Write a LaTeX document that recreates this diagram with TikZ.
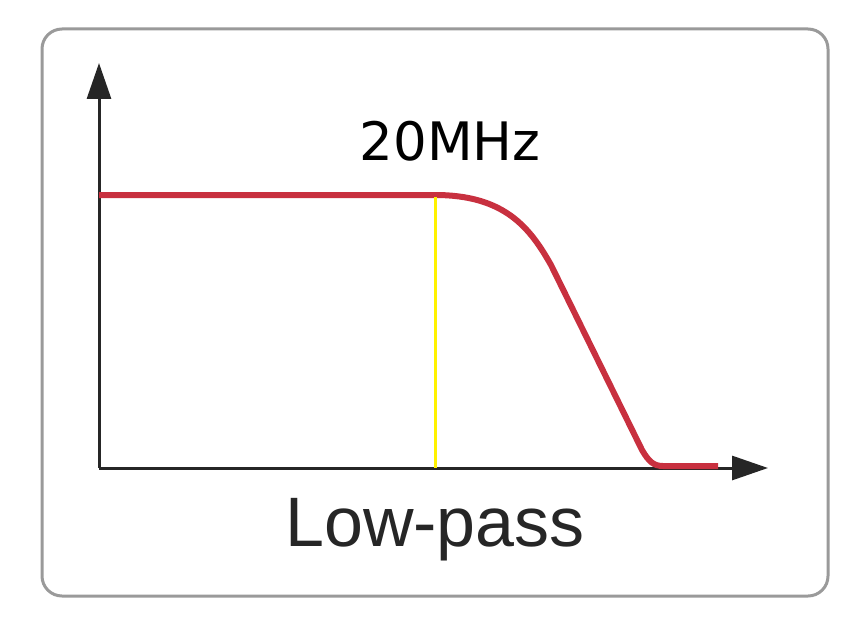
\documentclass[tikz,border=0pt]{standalone}
\usepackage{fontspec}
\setmainfont{Liberation Sans}
\newfontfamily\handfont{DejaVu Sans}
\usetikzlibrary{arrows.meta}
\definecolor{curvered}{HTML}{C8303F}
\definecolor{framegray}{HTML}{9A9A9A}
\tikzset{
  frame/.style={draw=framegray,line width=3pt,rounded corners=20pt},
  axis/.style={draw=black!85,line width=3pt,-{Triangle[length=36pt,width=24pt]}},
  response/.style={draw=curvered,line width=6pt,line join=round},
  marker/.style={draw=yellow,line width=3pt},
}
\begin{document}
\begin{tikzpicture}[x=1pt,y=-1pt]
\useasboundingbox (0,0) rectangle (866,623);
\draw[frame] (42,29) rectangle (828,596);
\coordinate (o) at (99,468);
\coordinate (ytip) at (99,63);
\coordinate (xtip) at (768,468);
\draw[axis] (o) -- (ytip);
\draw[axis] (o) -- (xtip);
\coordinate (c0) at (99,195);
\coordinate (c1) at (435,195);
\coordinate (c2) at (551,265);
\coordinate (c3) at (642,450);
\coordinate (c4) at (663,466);
\coordinate (c5) at (718,466);
\draw[response] (c0) -- (c1) .. controls (505,195) and (530,228) .. (c2) -- (c3) .. controls (649,462) and (654,466) .. (c4) -- (c5);
\coordinate (m0) at (435,197);
\coordinate (m1) at (435,468);
\draw[marker] (m0) -- (m1);
\node[font=\handfont\fontsize{53}{56}\selectfont,inner sep=0pt,anchor=base] (lbl) at (450,160) {20MHz};
\node[font=\fontsize{70}{74}\selectfont,text=black!85,inner sep=0pt,anchor=base] (title) at (435,546) {Low-pass};
\end{tikzpicture}
\end{document}
